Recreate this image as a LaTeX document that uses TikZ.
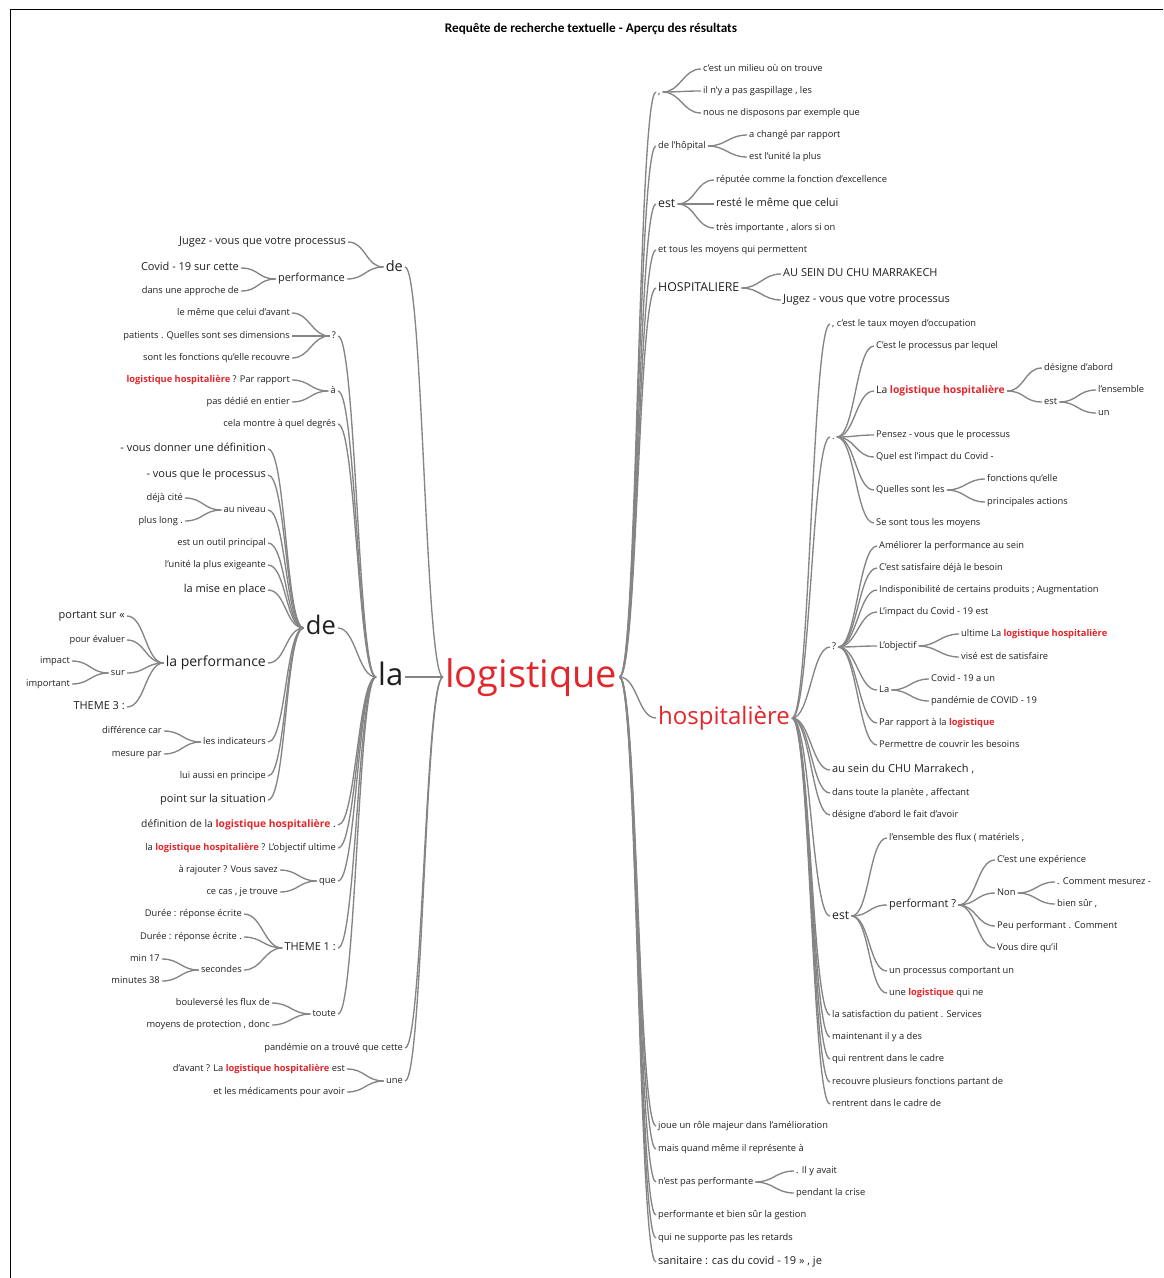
\documentclass[tikz,border=0pt]{standalone}
\usepackage{fontspec}
\setmainfont{Open Sans}
\newfontfamily\titlefont{Carlito}
\definecolor{kwred}{HTML}{E3262B}
\definecolor{txtgray}{HTML}{1F1F1F}
\definecolor{linegray}{HTML}{858585}
\newcommand{\kw}[1]{\textcolor{kwred}{\bfseries #1}}

\tikzset{
  base/.style={inner sep=2pt, text=txtgray},
  sm/.style={base, font=\fontsize{9.3}{11}\selectfont, text height=7pt, text depth=2pt},
  md/.style={base, font=\fontsize{10.3}{12}\selectfont, text height=7.7pt, text depth=2.2pt},
  lg/.style={base, font=\fontsize{11}{13}\selectfont, text height=8.3pt, text depth=2.4pt},
  xl/.style={base, font=\fontsize{12.3}{14}\selectfont, text height=9.2pt, text depth=2.7pt},
  lt/.style={anchor=east},
  rt/.style={anchor=west},
  link/.style={draw=linegray, line width=1.35pt},
  lk/.style={out=0, in=180, distance=18pt},
}

\begin{document}
\begin{tikzpicture}[x=1pt, y=-1pt]
    \useasboundingbox (0,0) rectangle (1163,1278);
    \draw[line width=1pt] (10,1278) -- (10,9.5) -- (1163,9.5);

    % Title
    \node (title) at (591,29) {\titlefont\bfseries\fontsize{13.2}{15}\selectfont Requête de recherche textuelle - Aperçu des résultats};

    % Centre words
    \node[base, rt, text=kwred, font=\fontsize{38}{40}\selectfont, text height=28pt, text depth=8pt] (logi) at (443,677) {logistique};
    \node[base, rt, font=\fontsize{31}{33}\selectfont, text height=23pt, text depth=6.5pt] (la) at (376,677) {la};
    \node[base, rt, text=kwred, font=\fontsize{24}{26}\selectfont, text height=18pt, text depth=5pt] (hosp) at (656,718) {hospitalière};

    % Left of logistique
    \node[base, lt, font=\fontsize{14.5}{16}\selectfont, text height=11pt, text depth=3pt] (deT) at (405,267) {de};
    \node[sm, lt] (pand) at (405,1048) {pandémie on a trouvé que cette};
    \node[sm, lt] (une) at (405,1081) {une};

    \node[lg, lt] (jugez) at (348,242) {Jugez - vous que votre processus};
    \node[lg, lt] (perf) at (347,279) {performance};
    \node[lg, lt] (covid) at (241,268) {Covid - 19 sur cette};
    \node[sm, lt] (appr) at (241,291) {dans une approche de};

    \node[sm, lt] (davant) at (347,1069) {d'avant ? La \kw{logistique hospitalière} est};
    \node[sm, lt] (medic) at (347,1092) {et les médicaments pour avoir};

    % Left of la
    \node[sm, lt] (q1) at (338,336) {?};
    \node[sm, lt] (a1) at (338,391) {à};
    \node[sm, lt] (cela) at (338,424) {cela montre à quel degrés};
    \node[base, lt, font=\fontsize{25.5}{27}\selectfont, text height=19pt, text depth=5.3pt] (deB) at (338,628) {de};
    \node[md, lt] (defi) at (338,825) {définition de la \kw{logistique hospitalière} .};
    \node[sm, lt] (lobj) at (338,848) {la \kw{logistique hospitalière} ? L'objectif ultime};
    \node[sm, lt] (que) at (338,881) {que};
    \node[lg, lt] (th1) at (338,948) {THEME 1 :};
    \node[sm, lt] (toute) at (338,1014) {toute};

    \node[sm, lt] (meme) at (292,313) {le même que celui d'avant};
    \node[sm, lt] (pat) at (292,336) {patients . Quelles sont ses dimensions};
    \node[sm, lt] (sont) at (292,358) {sont les fonctions qu'elle recouvre};
    \node[sm, lt] (lh1) at (292,380) {\kw{logistique hospitalière} ? Par rapport};
    \node[sm, lt] (dedie) at (292,402) {pas dédié en entier};

    % Left of the big de
    \node[lg, lt] (vdon) at (268,449) {- vous donner une définition};
    \node[lg, lt] (vque) at (268,475) {- vous que le processus};
    \node[sm, lt] (niv) at (268,510) {au niveau};
    \node[sm, lt] (outil) at (268,543) {est un outil principal};
    \node[sm, lt] (unite) at (268,565) {l'unité la plus exigeante};
    \node[lg, lt] (mise) at (268,590) {la mise en place};
    \node[base, lt, font=\fontsize{14}{16}\selectfont, text height=10.5pt, text depth=3pt] (laperf) at (268,663) {la performance};
    \node[sm, lt] (indic) at (268,742) {les indicateurs};
    \node[sm, lt] (lui) at (268,776) {lui aussi en principe};
    \node[lg, lt] (point) at (268,800) {point sur la situation};

    \node[sm, lt] (deja) at (185,498) {déjà cité};
    \node[sm, lt] (plong) at (185,521) {plus long .};

    \node[lg, lt] (port) at (127,616) {portant sur «};
    \node[sm, lt] (peval) at (127,640) {pour évaluer};
    \node[sm, lt] (sur) at (127,673) {sur};
    \node[lg, lt] (th3) at (127,707) {THEME 3 :};
    \node[sm, lt] (impact) at (72,661) {impact};
    \node[sm, lt] (imp) at (72,684) {important};

    \node[sm, lt] (diff) at (164,731) {différence car};
    \node[sm, lt] (mes) at (164,754) {mesure par};

    \node[sm, lt] (raj) at (280,870) {à rajouter ? Vous savez};
    \node[sm, lt] (cas) at (280,892) {ce cas , je trouve};

    \node[sm, lt] (dur1) at (244,914) {Durée : réponse écrite};
    \node[sm, lt] (dur2) at (244,937) {Durée : réponse écrite .};
    \node[sm, lt] (sec) at (244,970) {secondes};
    \node[sm, lt] (min17) at (162,959) {min 17};
    \node[sm, lt] (min38) at (162,981) {minutes 38};

    \node[sm, lt] (boul) at (272,1003) {bouleversé les flux de};
    \node[sm, lt] (moy) at (272,1025) {moyens de protection , donc};

    % Right of logistique
    \node[sm, rt] (comma) at (656,92) {,};
    \node[sm, rt] (dlh) at (656,146) {de l'hôpital};
    \node[xl, rt] (estA) at (656,204) {est};
    \node[sm, rt] (tous) at (656,250) {et tous les moyens qui permettent};
    \node[xl, rt] (HOSP) at (656,288) {HOSPITALIERE};
    \node[sm, rt] (joue) at (656,1126) {joue un rôle majeur dans l'amélioration};
    \node[sm, rt] (mais) at (656,1149) {mais quand même il représente à};
    \node[sm, rt] (npp) at (656,1182) {n'est pas performante};
    \node[sm, rt] (pbs) at (656,1215) {performante et bien sûr la gestion};
    \node[sm, rt] (supp) at (656,1238) {qui ne supporte pas les retards};
    \node[lg, rt] (sanit) at (656,1262) {sanitaire : cas du covid - 19 » , je};

    \node[sm, rt] (milieu) at (701,69) {c'est un milieu où on trouve};
    \node[sm, rt] (gasp) at (701,91) {il n'y a pas gaspillage , les};
    \node[sm, rt] (disp) at (701,113) {nous ne disposons par exemple que};
    \node[sm, rt] (change) at (747,135) {a changé par rapport};
    \node[sm, rt] (unite2) at (747,157) {est l'unité la plus};
    \node[sm, rt] (rep) at (714,180) {réputée comme la fonction d'excellence};
    \node[lg, rt] (reste) at (714,204) {resté le même que celui};
    \node[sm, rt] (tres) at (714,228) {très importante , alors si on};
    \node[lg, rt] (ausein) at (781,274) {AU SEIN DU CHU MARRAKECH};
    \node[lg, rt] (jugez2) at (781,300) {Jugez - vous que votre processus};
    \node[sm, rt] (ilyav) at (794,1171) {. Il y avait};
    \node[sm, rt] (crise) at (794,1193) {pendant la crise};

    % Right of hospitalière
    \node[sm, rt] (taux) at (830,324) {, c'est le taux moyen d'occupation};
    \node[sm, rt] (dot) at (830,437) {.};
    \node[sm, rt] (qm) at (830,647) {?};
    \node[lg, rt] (chu) at (830,770) {au sein du CHU Marrakech ,};
    \node[sm, rt] (plan) at (830,793) {dans toute la planète , affectant};
    \node[sm, rt] (desfait) at (830,815) {désigne d'abord le fait d'avoir};
    \node[xl, rt] (estB) at (830,916) {est};
    \node[sm, rt] (satis) at (830,1015) {la satisfaction du patient . Services};
    \node[sm, rt] (maint) at (830,1037) {maintenant il y a des};
    \node[sm, rt] (qrent) at (830,1059) {qui rentrent dans le cadre};
    \node[sm, rt] (recouv) at (830,1082) {recouvre plusieurs fonctions partant de};
    \node[sm, rt] (rentr) at (830,1104) {rentrent dans le cadre de};

    \node[sm, rt] (proc) at (874,346) {C'est le processus par lequel};
    \node[md, rt] (lalh) at (874,391) {La \kw{logistique hospitalière}};
    \node[sm, rt] (pensez) at (874,435) {Pensez - vous que le processus};
    \node[sm, rt] (quel) at (874,457) {Quel est l'impact du Covid -};
    \node[sm, rt] (quelles) at (874,490) {Quelles sont les};
    \node[sm, rt] (sesont) at (874,523) {Se sont tous les moyens};
    \node[sm, rt] (desab) at (1042,368) {désigne d'abord};
    \node[sm, rt] (estC) at (1042,402) {est};
    \node[sm, rt] (lens) at (1096,390) {l'ensemble};
    \node[sm, rt] (un) at (1096,413) {un};
    \node[sm, rt] (fonc) at (985,479) {fonctions qu'elle};
    \node[sm, rt] (princ) at (985,502) {principales actions};

    \node[sm, rt] (amel) at (877,546) {Améliorer la performance au sein};
    \node[sm, rt] (csat) at (877,568) {C'est satisfaire déjà le besoin};
    \node[sm, rt] (indisp) at (877,590) {Indisponibilité de certains produits ; Augmentation};
    \node[sm, rt] (limp) at (877,612) {L'impact du Covid - 19 est};
    \node[sm, rt] (lobjR) at (877,646) {L'objectif};
    \node[sm, rt] (laR) at (877,690) {La};
    \node[sm, rt] (parr) at (877,723) {Par rapport à la \kw{logistique}};
    \node[sm, rt] (perm) at (877,745) {Permettre de couvrir les besoins};
    \node[sm, rt] (ultime) at (959,634) {ultime La \kw{logistique hospitalière}};
    \node[sm, rt] (vise) at (959,657) {visé est de satisfaire};
    \node[sm, rt] (cov19) at (929,679) {Covid - 19 a un};
    \node[sm, rt] (pand19) at (929,701) {pandémie de COVID - 19};

    \node[sm, rt] (lensf) at (887,838) {l'ensemble des flux ( matériels ,};
    \node[lg, rt] (perfq) at (887,905) {performant ?};
    \node[sm, rt] (unproc) at (887,971) {un processus comportant un};
    \node[sm, rt] (unelog) at (887,993) {une \kw{logistique} qui ne};
    \node[sm, rt] (cexp) at (995,860) {C'est une expérience};
    \node[sm, rt] (non) at (995,893) {Non};
    \node[sm, rt] (peu) at (995,926) {Peu performant . Comment};
    \node[sm, rt] (vous) at (995,948) {Vous dire qu'il};
    \node[sm, rt] (comm) at (1055,882) {. Comment mesurez -};
    \node[sm, rt] (bien) at (1055,904) {bien sûr ,};

    % Links, child to parent on the left
    \foreach \a/\b in {jugez/deT, perf/deT, covid/perf, appr/perf,
        deT/logi, la/logi, pand/logi, une/logi, davant/une, medic/une,
        q1/la, a1/la, cela/la, deB/la, defi/la, lobj/la, que/la, th1/la, toute/la,
        meme/q1, pat/q1, sont/q1, lh1/a1, dedie/a1,
        vdon/deB, vque/deB, niv/deB, outil/deB, unite/deB, mise/deB,
        laperf/deB, indic/deB, lui/deB, point/deB, deja/niv, plong/niv,
        port/laperf, peval/laperf, sur/laperf, th3/laperf, impact/sur, imp/sur,
        diff/indic, mes/indic, raj/que, cas/que,
        dur1/th1, dur2/th1, sec/th1, min17/sec, min38/sec, boul/toute, moy/toute}
        \draw[link] (\a.east) to[lk] (\b.west);

    % Links, parent to child on the right
    \foreach \a/\b in {logi/comma, logi/dlh, logi/estA, logi/tous, logi/HOSP, logi/hosp,
        logi/joue, logi/mais, logi/npp, logi/pbs, logi/supp, logi/sanit,
        comma/milieu, comma/gasp, comma/disp, dlh/change, dlh/unite2,
        estA/rep, estA/reste, estA/tres, HOSP/ausein, HOSP/jugez2, npp/ilyav, npp/crise,
        hosp/taux, hosp/dot, hosp/qm, hosp/chu, hosp/plan, hosp/desfait, hosp/estB,
        hosp/satis, hosp/maint, hosp/qrent, hosp/recouv, hosp/rentr,
        dot/proc, dot/lalh, dot/pensez, dot/quel, dot/quelles, dot/sesont,
        lalh/desab, lalh/estC, estC/lens, estC/un, quelles/fonc, quelles/princ,
        qm/amel, qm/csat, qm/indisp, qm/limp, qm/lobjR, qm/laR, qm/parr, qm/perm,
        lobjR/ultime, lobjR/vise, laR/cov19, laR/pand19,
        estB/lensf, estB/perfq, estB/unproc, estB/unelog,
        perfq/cexp, perfq/non, perfq/peu, perfq/vous, non/comm, non/bien}
        \draw[link] (\a.east) to[lk] (\b.west);
\end{tikzpicture}
\end{document}
